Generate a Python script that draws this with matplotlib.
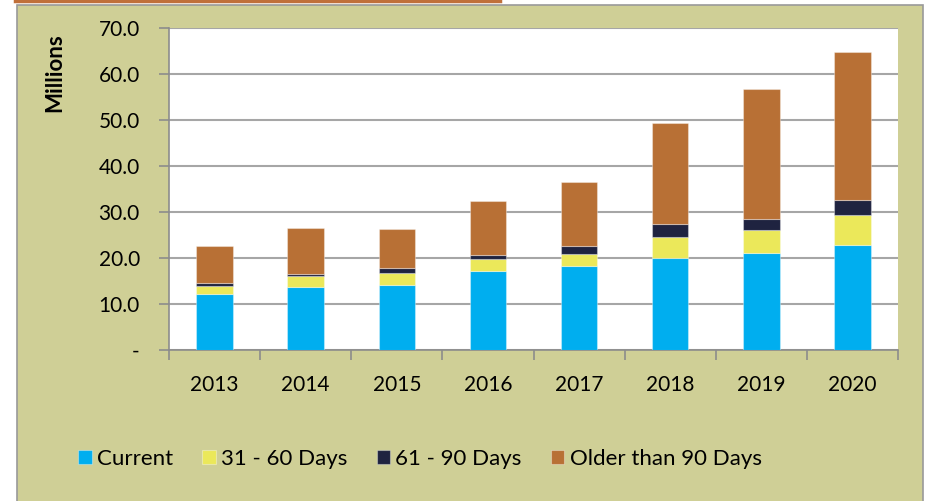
import matplotlib
matplotlib.use("Agg")
import matplotlib.pyplot as plt
from matplotlib.patches import Rectangle
import numpy as np

years = ["2013", "2014", "2015", "2016", "2017", "2018", "2019", "2020"]
current = [12.1, 13.8, 14.1, 17.2, 18.3, 19.9, 21.1, 22.8]
d31_60 = [1.9, 2.2, 2.7, 2.5, 2.5, 4.7, 4.9, 6.6]
d61_90 = [0.5, 0.5, 1.0, 1.0, 1.8, 2.8, 2.5, 3.3]
older90 = [8.1, 10.0, 8.5, 11.8, 14.0, 21.9, 28.3, 32.1]
series_names = ["Current", "31 - 60 Days", "61 - 90 Days", "Older than 90 Days"]
y_ticks = [0, 10, 20, 30, 40, 50, 60, 70]
y_tick_labels = ["-", "10.0", "20.0", "30.0", "40.0", "50.0", "60.0", "70.0"]

colors = ["#00AEEF", "#EBE85A", "#1F2340", "#B87035"]
panel = "#CFCF96"

plt.rcParams["font.family"] = ["Lato", "DejaVu Sans"]

W, H = 932, 501
fig = plt.figure(figsize=(W / 100, H / 100), dpi=100)
fig.patch.set_facecolor("white")

# green panel (background axes)
bg = fig.add_axes([0, 0, 1, 1], zorder=-5)
bg.set_xlim(0, W)
bg.set_ylim(H, 0)
bg.axis("off")
bg.add_patch(Rectangle((17, 5), 923 - 17, H, facecolor=panel,
                       edgecolor="#9a9a9a", linewidth=1.2))
bg.plot([15, 500], [1, 1], color="#C0703A", linewidth=2.5)

ax = fig.add_axes([169 / W, 1 - 350 / H, (898 - 169) / W, (350 - 28) / H], zorder=2)
ax.set_facecolor("white")
x = np.arange(len(years))
bottom = np.zeros(len(years))
data = [current, d31_60, d61_90, older90]
handles = []
for vals, c, name in zip(data, colors, series_names):
    b = ax.bar(x, vals, width=0.4, bottom=bottom, color=c, label=name,
               edgecolor=(1, 1, 1, 0.35), linewidth=0.8, zorder=3)
    handles.append(b)
    bottom += np.array(vals)

ax.set_xlim(-0.5, len(years) - 0.5)
ax.set_ylim(0, 70)
ax.set_yticks(y_ticks)
ax.set_yticklabels(y_tick_labels, fontsize=15)
ax.set_xticks(x)
ax.set_xticklabels(years, fontsize=15)
ax.tick_params(axis="x", length=0, pad=18)
ax.set_xticks(np.arange(-0.5, len(years), 1), minor=True)
ax.tick_params(axis="x", which="minor", length=7, color="#8c8c8c", width=1.2)
ax.tick_params(axis="y", length=7, color="#8c8c8c", width=1.2, pad=14)
ax.grid(axis="y", color="#a6a6a6", linewidth=1.5, zorder=0)
ax.set_axisbelow(True)
for s in ["top", "right"]:
    ax.spines[s].set_visible(False)
for s in ["left", "bottom"]:
    ax.spines[s].set_color("#8c8c8c")
    ax.spines[s].set_linewidth(1.2)

fig.text(55 / W, 1 - 73 / H, "Millions", rotation=90, fontsize=16,
         fontweight="bold", ha="center", va="center")

leg = fig.legend(handles=handles, labels=series_names, loc="center",
                 bbox_to_anchor=(420 / W, 1 - 459 / H), ncol=4, frameon=False,
                 fontsize=16, handlelength=0.6, handleheight=0.6,
                 handletextpad=0.25, columnspacing=1.3)

fig.savefig("out.png", dpi=100)
